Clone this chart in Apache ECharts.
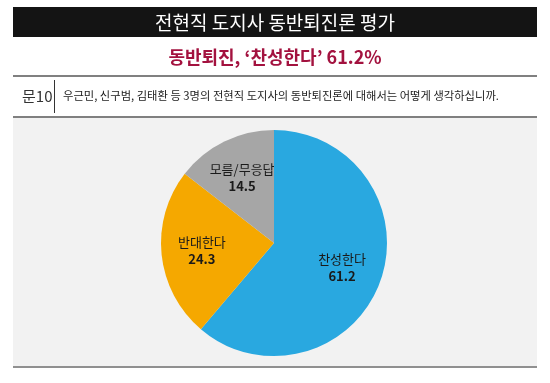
<!DOCTYPE html>
<html>
<head>
<meta charset="utf-8">
<script src="https://cdn.jsdelivr.net/npm/echarts@6/dist/echarts.min.js"></script>
<style>
html,body{margin:0;padding:0;background:#fff;}
#main{width:550px;height:383px;}
</style>
</head>
<body>
<div id="main"></div>
<script>
const titleText = '전현직 도지사 동반퇴진론 평가';
const subtitleText = '동반퇴진, ‘찬성한다’ 61.2%';
const questionNo = '문10';
const questionText = '우근민, 신구범, 김태환 등 3명의 전현직 도지사의 동반퇴진론에 대해서는 어떻게 생각하십니까.';
const categories = ['찬성한다', '반대한다', '모름/무응답'];
const values = [61.2, 24.3, 14.5];
const colors = ['#29a8e0', '#f5a800', '#a6a6a6'];

const FONT = '"Noto Sans CJK KR", "Noto Sans", sans-serif';
const chart = echarts.init(document.getElementById('main'), null, {renderer: 'canvas'});

const pieData = categories.map((c, i) => ({name: c, value: values[i], itemStyle: {color: colors[i]}}));
const labelData = categories.map((c, i) => ({name: c, value: values[i]}));

chart.setOption({
  backgroundColor: '#ffffff',
  animation: false,
  graphic: [
    {type: 'rect', z: -10, shape: {x: 13, y: 118, width: 524, height: 249}, style: {fill: '#f2f2f2'}},
    {type: 'rect', shape: {x: 13, y: 7, width: 524, height: 30}, style: {fill: '#141414'}},
    {type: 'text', x: 275, y: 23, style: {text: titleText, fill: '#ffffff', font: '19px ' + FONT, textAlign: 'center', textVerticalAlign: 'middle'}},
    {type: 'text', x: 275, y: 57, style: {text: subtitleText, fill: '#a3123f', font: 'bold 18px ' + FONT, textAlign: 'center', textVerticalAlign: 'middle'}},
    {type: 'line', shape: {x1: 13, y1: 76, x2: 537, y2: 76}, style: {stroke: '#808080', lineWidth: 2}},
    {type: 'text', x: 22, y: 96, style: {text: questionNo, fill: '#333333', font: '15px ' + FONT, textAlign: 'left', textVerticalAlign: 'middle'}},
    {type: 'line', shape: {x1: 54.5, y1: 80, x2: 54.5, y2: 113}, style: {stroke: '#333333', lineWidth: 1}},
    {type: 'text', x: 63, y: 96, style: {text: questionText, fill: '#222222', font: '11.3px ' + FONT, textAlign: 'left', textVerticalAlign: 'middle'}},
    {type: 'line', shape: {x1: 13, y1: 117, x2: 537, y2: 117}, style: {stroke: '#808080', lineWidth: 2}},
    {type: 'line', shape: {x1: 13, y1: 367, x2: 537, y2: 367}, style: {stroke: '#909090', lineWidth: 2}}
  ],
  series: [
    {
      type: 'pie',
      center: [274, 243],
      radius: [0, 113],
      startAngle: 90,
      clockwise: true,
      silent: true,
      label: {show: false},
      labelLine: {show: false},
      itemStyle: {borderWidth: 0},
      data: pieData
    },
    {
      type: 'pie',
      center: [274, 243],
      radius: [26, 113],
      startAngle: 90,
      clockwise: true,
      silent: true,
      z: 5,
      itemStyle: {color: 'rgba(0,0,0,0)', borderWidth: 0},
      labelLine: {show: false},
      label: {
        show: true,
        position: 'inside',
        formatter: p => '{n|' + p.name + '}\n{v|' + p.value.toFixed(1) + '}',
        rich: {
          n: {fontFamily: FONT, fontSize: 13, color: '#1a1a1a', lineHeight: 17, align: 'center'},
          v: {fontFamily: FONT, fontSize: 13, fontWeight: 'bold', color: '#1a1a1a', lineHeight: 17, align: 'center'}
        }
      },
      data: labelData
    }
  ]
});
</script>
</body>
</html>
